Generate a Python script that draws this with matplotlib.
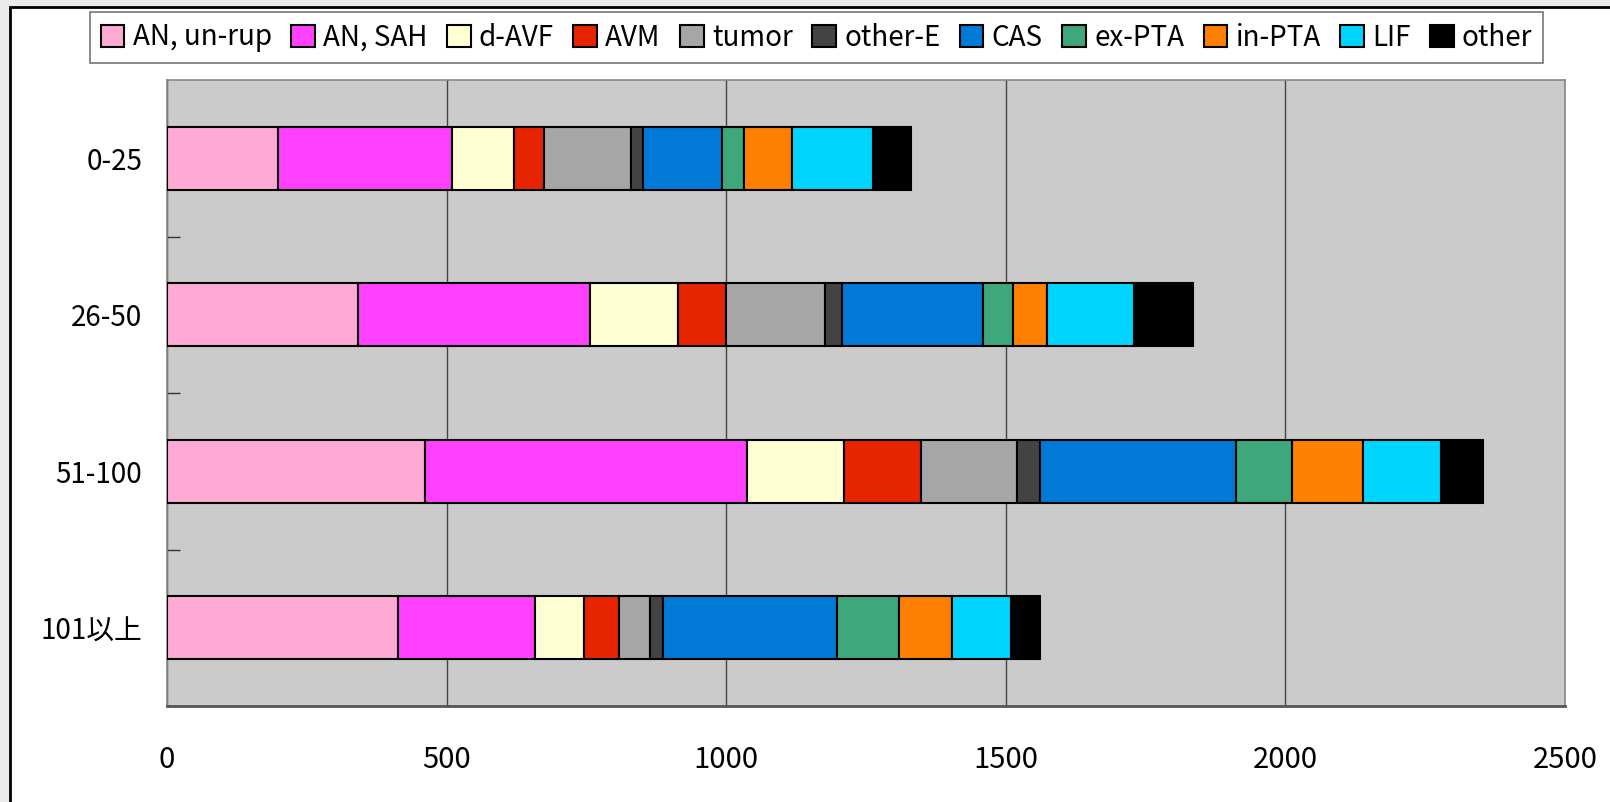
import matplotlib
matplotlib.use("Agg")
import matplotlib.pyplot as plt
import matplotlib.patches as mpatches
import numpy as np

plt.rcParams['font.family'] = ['Noto Sans CJK JP', 'DejaVu Sans']

categories = ["0-25", "26-50", "51-100", "101以上"]
series_names = ["AN, un-rup", "AN, SAH", "d-AVF", "AVM", "tumor", "other-E",
                "CAS", "ex-PTA", "in-PTA", "LIF", "other"]
colors = ["#ffaad4", "#ff40ff", "#ffffd4", "#e62400", "#a6a6a6", "#434343",
          "#007ad6", "#3ea77b", "#ff7f00", "#00d5ff", "#000000"]

an_unrup = [199, 341, 461, 413]
an_sah   = [311, 415, 577, 245]
d_avf    = [110, 157, 172, 87]
avm      = [55, 87, 139, 63]
tumor    = [154, 176, 171, 56]
other_e  = [22, 31, 41, 23]
cas      = [142, 253, 351, 312]
ex_pta   = [39, 53, 100, 110]
in_pta   = [86, 61, 126, 95]
lif      = [145, 156, 141, 106]
other    = [67, 104, 74, 52]

series = [an_unrup, an_sah, d_avf, avm, tumor, other_e, cas, ex_pta, in_pta, lif, other]
xticks = [0, 500, 1000, 1500, 2000, 2500]

W, H = 1610, 802
fig = plt.figure(figsize=(W/100, H/100), dpi=100, facecolor="#ebebeb")
frame = mpatches.Rectangle((10/W, -0.02), 1.2, 1 - 7/H + 0.02, transform=fig.transFigure,
                           facecolor="white", edgecolor="black", lw=2, zorder=-10)
fig.patches.append(frame)

left, right = 167/W, 1565/W
top, bottom = 1 - 80/H, 1 - 706/H
ax = fig.add_axes([left, bottom, right - left, top - bottom])
ax.set_facecolor("#cbcbcb")

y = np.arange(len(categories))
cum = np.zeros(len(categories))
handles = []
for name, vals, c in zip(series_names, series, colors):
    vals = np.array(vals, dtype=float)
    ax.barh(y, vals, left=cum, height=0.4, color=c, edgecolor="black", linewidth=1.5, zorder=3)
    cum += vals
    handles.append(mpatches.Patch(facecolor=c, edgecolor="black", linewidth=1.5, label=name))

ax.set_xlim(0, 2500)
ax.set_ylim(len(categories) - 0.5, -0.5)
ax.set_xticks(xticks)
ax.set_xticklabels([str(t) for t in xticks], fontsize=21)
ax.tick_params(axis='x', length=0, pad=28)
ax.xaxis.grid(True, color="#444444", linewidth=1, zorder=1)
ax.set_axisbelow(True)

ax.set_yticks(y)
ax.set_yticklabels(categories, fontsize=20)
ax.tick_params(axis='y', length=0, pad=18)
ax.set_yticks(np.arange(0.5, len(categories) - 0.5, 1.0), minor=True)
ax.tick_params(axis='y', which='minor', direction='in', length=9, width=1, color="#333333")

for s in ax.spines.values():
    s.set_color("#888888")
    s.set_linewidth(1.2)
ax.spines['bottom'].set_color("#555555")
ax.spines['bottom'].set_linewidth(2)

leg = fig.legend(handles=handles, loc='center', bbox_to_anchor=((98 + 1535) / 2 / W, 1 - 37.5 / H),
                 ncol=11, fontsize=20, frameon=True, fancybox=False, edgecolor="#555555",
                 handlelength=0.85, handleheight=0.85, handletextpad=0.3, columnspacing=0.7,
                 borderpad=0.38, borderaxespad=0)
leg.get_frame().set_linewidth(1.2)

fig.savefig("out.png", dpi=100, facecolor=fig.get_facecolor())
